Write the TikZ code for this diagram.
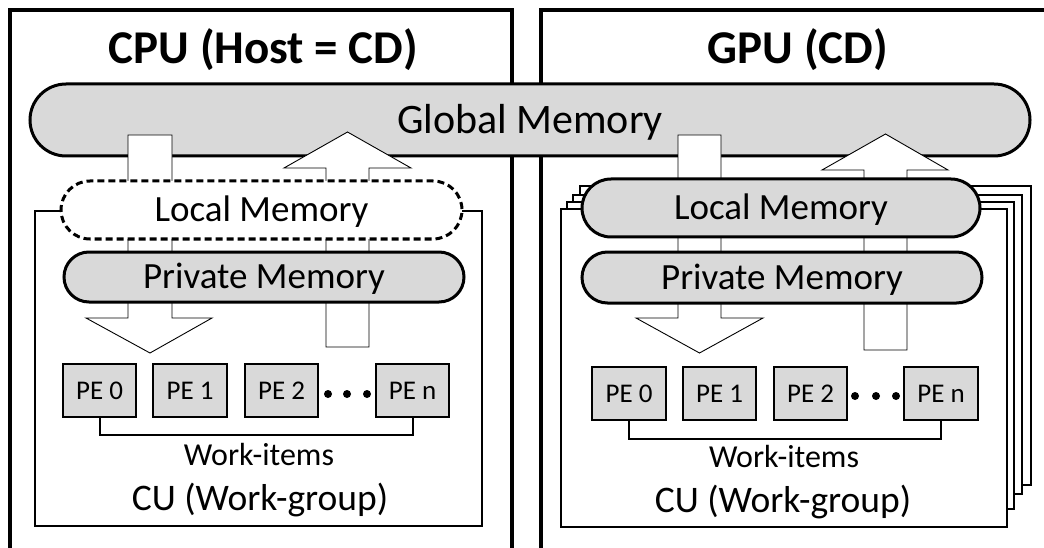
\documentclass[tikz,border=0pt]{standalone}
\usepackage{fontspec}
\setmainfont{Carlito}
\usetikzlibrary{shapes.misc}
\definecolor{memgray}{HTML}{D9D9D9}
\newcommand{\setfs}[1]{\fontsize{#1}{#1}\selectfont}
\tikzset{
  panel/.style={line width=3.5pt},
  title/.style={font=\bfseries\setfs{47pt}, anchor=base, inner sep=0pt},
  mem/.style={rounded rectangle, draw, line width=3pt, fill=memgray, inner sep=0pt,
              text depth=0pt},
  memtext/.style={font=\setfs{37pt}, text height=23.4pt},
  localdash/.style={fill=white, dash pattern=on 7pt off 4pt},
  cubox/.style={draw, line width=2.2pt, fill=white, inner sep=0pt},
  pebox/.style={draw, line width=2.2pt, fill=memgray, inner sep=0pt,
                minimum height=53pt, font=\setfs{27pt}, text height=17pt, text depth=0pt},
  blockarrow/.style={draw, fill=white, line width=0.9pt, line join=miter},
  bracket/.style={line width=2pt},
  label/.style={anchor=base, inner sep=0pt},
  dot/.style={fill=black}
}
\begin{document}
\begin{tikzpicture}[x=1pt,y=-1pt]
\useasboundingbox (0,0) rectangle (1044,548);
\clip (0,0) rectangle (1044,548);

% host and device panels
\draw[panel] (10,560) |- (512,10) -- (512,560);
\draw[panel] (541,560) |- (1060,10);
\node[title] (cputitle) at (263.5,64) {CPU (Host = CD)};
\node[title] (gputitle) at (798,64) {GPU (CD)};

% compute units
\node[cubox, minimum width=447pt, minimum height=315pt] (cuL) at (258.5,368.5) {};
\draw[cubox] (580,186) rectangle (1031,485);
\draw[cubox] (573,195) rectangle (1022,494);
\draw[cubox] (567,202) rectangle (1014,509);
\node[cubox, minimum width=446pt, minimum height=318pt] (cuR) at (784,368) {};

% global memory shared by both devices
\node[mem, minimum width=1000pt, minimum height=72pt, font=\setfs{42pt}, text height=26.5pt]
  (glob) at (530,120) {Global Memory};

% data movement arrows
\draw[blockarrow] (128,135) -- (172,135) -- (172,318) -- (212,318) -- (150,353)
  -- (86,318) -- (128,318) -- cycle;
\draw[blockarrow] (326,347) -- (369,347) -- (369,168) -- (411,168) -- (347.5,132)
  -- (284,168) -- (326,168) -- cycle;
\draw[blockarrow] (678,135) -- (721,135) -- (721,318) -- (763,318) -- (699.5,353)
  -- (636,318) -- (678,318) -- cycle;
\draw[blockarrow] (864,350) -- (907,350) -- (907,170) -- (948,170) -- (885.5,134)
  -- (822,170) -- (864,170) -- cycle;

% local and private memories
\node[mem, memtext, localdash, minimum width=401pt, minimum height=58pt]
  (locL) at (261.5,210) {Local Memory};
\node[mem, memtext, minimum width=400pt, minimum height=50pt]
  (privL) at (264,277) {Private Memory};
\node[mem, memtext, minimum width=398pt, minimum height=58pt]
  (locR) at (781,208) {Local Memory};
\node[mem, memtext, minimum width=400pt, minimum height=51pt]
  (privR) at (782,277.5) {Private Memory};

% processing elements, CPU side
\node[pebox, minimum width=73pt] (pe0L) at (99.5,390.5) {PE 0};
\node[pebox, minimum width=74pt] (pe1L) at (190,390.5) {PE 1};
\node[pebox, minimum width=73pt] (pe2L) at (281.5,390.5) {PE 2};
\node[pebox, minimum width=73pt] (penL) at (412.5,390.5) {PE n};
\fill[dot] (328,394) circle (4pt) (347,394) circle (4pt) (367,394) circle (4pt);
\draw[bracket] (pe0L.south) -- ++(0,17) -| (penL.south);
\node[label, font=\setfs{32pt}] (wiL) at (259,465) {Work-items};
\node[label, font=\setfs{37.5pt}] (wgL) at (260,510) {CU (Work-group)};

% processing elements, GPU side
\node[pebox, minimum width=74pt] (pe0R) at (629,393.5) {PE 0};
\node[pebox, minimum width=73pt] (pe1R) at (719.5,393.5) {PE 1};
\node[pebox, minimum width=73pt] (pe2R) at (810.5,393.5) {PE 2};
\node[pebox, minimum width=74pt] (penR) at (941,393.5) {PE n};
\fill[dot] (855,396) circle (4pt) (876,396) circle (4pt) (896,396) circle (4pt);
\draw[bracket] (pe0R.south) -- ++(0,18) -| (penR.south);
\node[label, font=\setfs{32pt}] (wiR) at (784,467) {Work-items};
\node[label, font=\setfs{37.5pt}] (wgR) at (783,512) {CU (Work-group)};
\end{tikzpicture}
\end{document}
